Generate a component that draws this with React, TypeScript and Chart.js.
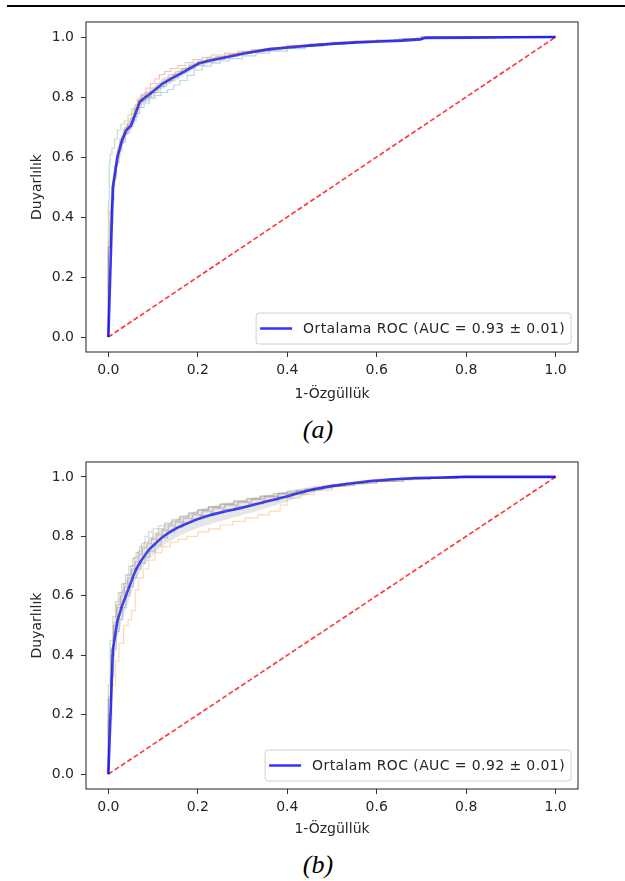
import React, { useEffect, useRef } from "react";
import { Chart, registerables } from "chart.js";

Chart.register(...registerables);

// ---------- data ----------
const axisTicks = [0, 0.2, 0.4, 0.6, 0.8, 1.0];
const chanceFpr = [0, 1];
const chanceTpr = [0, 1];

// (a) mean ROC
const meanFprA = [0, 0.0101, 0.0202, 0.0303, 0.0404, 0.0505, 0.0606, 0.0707, 0.0808, 0.0909, 0.101, 0.1212, 0.1414, 0.1616, 0.1818, 0.202, 0.2222, 0.2525, 0.303, 0.3535, 0.404, 0.4545, 0.505, 0.5556, 0.6061, 0.6566, 0.697, 0.7071, 0.8081, 0.9091, 1.0];
const meanTprA = [0, 0.5, 0.6, 0.655, 0.69, 0.705, 0.745, 0.785, 0.797, 0.808, 0.82, 0.845, 0.862, 0.878, 0.895, 0.912, 0.92, 0.929, 0.945, 0.958, 0.966, 0.972, 0.978, 0.982, 0.985, 0.988, 0.992, 0.997, 0.998, 0.999, 1.0];
const stdTprA = [0, 0.04, 0.03, 0.025, 0.02, 0.02, 0.02, 0.015, 0.015, 0.015, 0.015, 0.015, 0.015, 0.015, 0.012, 0.01, 0.008, 0.008, 0.006, 0.005, 0.005, 0.004, 0.004, 0.003, 0.003, 0.003, 0.003, 0.002, 0.001, 0.001, 0];

// (a) folds
const foldA1Fpr = [0, 0, 0.004, 0.008, 0.012, 0.018, 0.024, 0.03, 0.038, 0.046, 0.054, 0.062, 0.07, 0.08, 0.092, 0.104, 0.118, 0.132, 0.146, 0.16, 0.176, 0.192, 0.21, 0.23, 0.25, 0.27, 0.3, 0.33, 0.36, 0.4, 0.44, 0.48, 0.53, 0.58, 0.64, 0.7, 1.0];
const foldA1Tpr = [0, 0.28, 0.38, 0.46, 0.53, 0.58, 0.62, 0.65, 0.68, 0.7, 0.72, 0.745, 0.765, 0.78, 0.795, 0.805, 0.815, 0.825, 0.84, 0.855, 0.872, 0.89, 0.903, 0.913, 0.92, 0.928, 0.937, 0.946, 0.953, 0.961, 0.969, 0.975, 0.981, 0.986, 0.991, 1.0, 1.0];
const foldA2Fpr = [0, 0, 0.004, 0.01, 0.016, 0.022, 0.03, 0.036, 0.044, 0.052, 0.058, 0.064, 0.072, 0.082, 0.094, 0.108, 0.12, 0.134, 0.15, 0.166, 0.182, 0.2, 0.22, 0.24, 0.26, 0.29, 0.32, 0.35, 0.39, 0.43, 0.47, 0.52, 0.57, 0.62, 0.68, 0.72, 1.0];
const foldA2Tpr = [0, 0.32, 0.44, 0.52, 0.58, 0.63, 0.67, 0.7, 0.72, 0.745, 0.77, 0.795, 0.805, 0.815, 0.83, 0.845, 0.86, 0.875, 0.885, 0.895, 0.905, 0.915, 0.925, 0.932, 0.94, 0.947, 0.953, 0.96, 0.966, 0.972, 0.978, 0.983, 0.987, 0.99, 0.995, 1.0, 1.0];
const foldA3Fpr = [0, 0, 0.002, 0.004, 0.008, 0.014, 0.02, 0.028, 0.036, 0.044, 0.052, 0.06, 0.068, 0.078, 0.09, 0.102, 0.116, 0.13, 0.146, 0.162, 0.18, 0.2, 0.22, 0.24, 0.27, 0.3, 0.34, 0.38, 0.42, 0.46, 0.5, 0.55, 0.6, 0.66, 0.7, 1.0];
const foldA3Tpr = [0, 0.45, 0.58, 0.61, 0.63, 0.66, 0.69, 0.71, 0.72, 0.74, 0.76, 0.775, 0.785, 0.79, 0.8, 0.815, 0.835, 0.855, 0.875, 0.895, 0.91, 0.92, 0.93, 0.935, 0.942, 0.95, 0.957, 0.962, 0.968, 0.974, 0.978, 0.983, 0.988, 0.993, 1.0, 1.0];
const foldA4Fpr = [0, 0, 0.004, 0.008, 0.014, 0.02, 0.026, 0.034, 0.042, 0.05, 0.058, 0.066, 0.074, 0.084, 0.094, 0.104, 0.114, 0.126, 0.14, 0.156, 0.172, 0.19, 0.21, 0.23, 0.26, 0.29, 0.32, 0.36, 0.4, 0.45, 0.5, 0.55, 0.6, 0.65, 0.69, 1.0];
const foldA4Tpr = [0, 0.3, 0.42, 0.5, 0.57, 0.62, 0.66, 0.69, 0.71, 0.73, 0.76, 0.79, 0.81, 0.83, 0.845, 0.86, 0.875, 0.885, 0.895, 0.905, 0.915, 0.925, 0.932, 0.94, 0.946, 0.952, 0.958, 0.965, 0.972, 0.977, 0.982, 0.986, 0.99, 0.995, 1.0, 1.0];
const foldA5Fpr = [0, 0, 0.006, 0.012, 0.018, 0.026, 0.034, 0.042, 0.05, 0.058, 0.066, 0.074, 0.084, 0.096, 0.11, 0.124, 0.14, 0.156, 0.174, 0.194, 0.214, 0.236, 0.26, 0.29, 0.32, 0.36, 0.4, 0.44, 0.49, 0.54, 0.6, 0.66, 0.71, 1.0];
const foldA5Tpr = [0, 0.3, 0.45, 0.54, 0.6, 0.645, 0.675, 0.695, 0.71, 0.735, 0.765, 0.785, 0.8, 0.815, 0.83, 0.85, 0.865, 0.88, 0.895, 0.905, 0.915, 0.925, 0.935, 0.945, 0.952, 0.96, 0.967, 0.973, 0.979, 0.984, 0.989, 0.995, 1.0, 1.0];

// (b) mean ROC
const meanFprB = [0, 0.0101, 0.0202, 0.0303, 0.0404, 0.0505, 0.0606, 0.0707, 0.0808, 0.0909, 0.101, 0.1212, 0.1414, 0.1616, 0.1818, 0.202, 0.2323, 0.2626, 0.2929, 0.3232, 0.3535, 0.3939, 0.4242, 0.4545, 0.4949, 0.5354, 0.5859, 0.6364, 0.6869, 0.7475, 0.798, 1.0];
const meanTprB = [0, 0.42, 0.515, 0.565, 0.605, 0.645, 0.685, 0.712, 0.735, 0.755, 0.77, 0.798, 0.818, 0.834, 0.847, 0.859, 0.873, 0.884, 0.894, 0.905, 0.917, 0.932, 0.945, 0.957, 0.968, 0.977, 0.986, 0.992, 0.996, 0.998, 1.0, 1.0];
const stdTprB = [0, 0.07, 0.06, 0.05, 0.045, 0.04, 0.035, 0.032, 0.032, 0.032, 0.032, 0.03, 0.03, 0.03, 0.03, 0.03, 0.03, 0.028, 0.026, 0.024, 0.022, 0.018, 0.014, 0.011, 0.008, 0.006, 0.004, 0.003, 0.002, 0.001, 0, 0];

// (b) folds
const foldB1Fpr = [0, 0, 0.006, 0.012, 0.018, 0.024, 0.032, 0.04, 0.048, 0.056, 0.064, 0.072, 0.082, 0.092, 0.104, 0.118, 0.132, 0.148, 0.166, 0.186, 0.206, 0.23, 0.256, 0.284, 0.314, 0.346, 0.38, 0.41, 0.44, 0.48, 0.52, 0.57, 0.62, 0.68, 0.74, 0.8, 1.0];
const foldB1Tpr = [0, 0.2, 0.33, 0.42, 0.48, 0.52, 0.56, 0.6, 0.63, 0.66, 0.69, 0.71, 0.73, 0.75, 0.77, 0.795, 0.815, 0.83, 0.845, 0.858, 0.87, 0.88, 0.89, 0.9, 0.91, 0.92, 0.932, 0.945, 0.958, 0.968, 0.976, 0.984, 0.99, 0.995, 0.998, 1.0, 1.0];
const foldB2Fpr = [0, 0, 0.008, 0.016, 0.024, 0.034, 0.044, 0.052, 0.06, 0.068, 0.078, 0.09, 0.104, 0.12, 0.138, 0.156, 0.176, 0.2, 0.224, 0.25, 0.278, 0.306, 0.334, 0.36, 0.384, 0.4, 0.43, 0.46, 0.5, 0.54, 0.58, 0.63, 0.68, 0.74, 0.8, 1.0];
const foldB2Tpr = [0, 0.18, 0.3, 0.38, 0.44, 0.5, 0.52, 0.55, 0.62, 0.66, 0.69, 0.72, 0.745, 0.765, 0.78, 0.79, 0.8, 0.815, 0.825, 0.838, 0.85, 0.862, 0.872, 0.885, 0.905, 0.928, 0.94, 0.955, 0.968, 0.98, 0.988, 0.993, 0.996, 0.998, 1.0, 1.0];
const foldB3Fpr = [0, 0, 0.004, 0.01, 0.016, 0.022, 0.03, 0.038, 0.046, 0.054, 0.062, 0.07, 0.08, 0.09, 0.1, 0.112, 0.126, 0.142, 0.16, 0.18, 0.2, 0.224, 0.25, 0.28, 0.31, 0.34, 0.37, 0.4, 0.44, 0.48, 0.53, 0.58, 0.64, 0.7, 0.76, 1.0];
const foldB3Tpr = [0, 0.3, 0.45, 0.53, 0.58, 0.61, 0.64, 0.67, 0.7, 0.725, 0.745, 0.765, 0.78, 0.795, 0.81, 0.825, 0.84, 0.852, 0.865, 0.878, 0.89, 0.9, 0.91, 0.92, 0.928, 0.936, 0.944, 0.952, 0.96, 0.968, 0.977, 0.985, 0.992, 0.996, 1.0, 1.0];
const foldB4Fpr = [0, 0, 0.006, 0.012, 0.02, 0.028, 0.036, 0.044, 0.052, 0.06, 0.068, 0.076, 0.086, 0.096, 0.108, 0.12, 0.134, 0.15, 0.168, 0.188, 0.21, 0.234, 0.26, 0.29, 0.32, 0.35, 0.38, 0.42, 0.46, 0.5, 0.55, 0.6, 0.66, 0.72, 0.78, 1.0];
const foldB4Tpr = [0, 0.25, 0.4, 0.5, 0.56, 0.6, 0.63, 0.66, 0.69, 0.715, 0.74, 0.76, 0.775, 0.79, 0.805, 0.82, 0.835, 0.848, 0.86, 0.872, 0.885, 0.895, 0.905, 0.915, 0.925, 0.935, 0.945, 0.955, 0.965, 0.973, 0.98, 0.986, 0.992, 0.996, 1.0, 1.0];
const foldB5Fpr = [0, 0, 0.006, 0.012, 0.018, 0.026, 0.034, 0.042, 0.05, 0.058, 0.066, 0.074, 0.082, 0.09, 0.1, 0.112, 0.126, 0.142, 0.16, 0.18, 0.2, 0.224, 0.25, 0.28, 0.31, 0.34, 0.38, 0.42, 0.46, 0.5, 0.55, 0.6, 0.66, 0.72, 0.78, 1.0];
const foldB5Tpr = [0, 0.26, 0.42, 0.51, 0.57, 0.61, 0.64, 0.67, 0.7, 0.73, 0.75, 0.775, 0.8, 0.815, 0.825, 0.835, 0.845, 0.857, 0.868, 0.878, 0.888, 0.898, 0.907, 0.916, 0.925, 0.933, 0.942, 0.952, 0.962, 0.971, 0.979, 0.986, 0.992, 0.996, 1.0, 1.0];

const foldColors = [
  "rgba(31,119,180,0.3)",
  "rgba(255,127,14,0.3)",
  "rgba(44,160,44,0.3)",
  "rgba(214,39,40,0.3)",
  "rgba(148,103,189,0.3)",
];

const legendTextA = "Ortalama ROC (AUC = 0.93 ± 0.01)";
const legendTextB = "Ortalam ROC (AUC = 0.92 ± 0.01)";
const xTitle = "1-Özgüllük";
const yTitle = "Duyarlılık";

// ---------- helpers ----------
const FONT = "'DejaVu Sans', sans-serif";
const TEXT = "#262626";
const FS = 14;

const toPts = (xs: number[], ys: number[]) => xs.map((x, i) => ({ x, y: ys[i] }));

const frameLegendPlugin = {
  id: "frameLegend",
  afterDatasetsDraw(chart: any, _args: any, opts: any) {
    const { ctx, chartArea: a } = chart;
    ctx.save();
    ctx.strokeStyle = "#333";
    ctx.lineWidth = 1.1;
    ctx.strokeRect(a.left, a.top, a.right - a.left, a.bottom - a.top);

    ctx.font = `${FS}px ${FONT}`;
    try {
      (ctx as any).letterSpacing = "0.4px";
    } catch (e) {}
    const tw = ctx.measureText(opts.text).width;
    const h = 31;
    const right = a.right - 7;
    const bottom = a.bottom - 8;
    const w = 4 + 32 + 11 + tw + 6;
    const left = right - w;
    const top = bottom - h;
    const r = 3;
    ctx.beginPath();
    ctx.moveTo(left + r, top);
    ctx.lineTo(right - r, top);
    ctx.quadraticCurveTo(right, top, right, top + r);
    ctx.lineTo(right, bottom - r);
    ctx.quadraticCurveTo(right, bottom, right - r, bottom);
    ctx.lineTo(left + r, bottom);
    ctx.quadraticCurveTo(left, bottom, left, bottom - r);
    ctx.lineTo(left, top + r);
    ctx.quadraticCurveTo(left, top, left + r, top);
    ctx.closePath();
    ctx.fillStyle = "rgba(255,255,255,0.8)";
    ctx.fill();
    ctx.strokeStyle = "#d0d0d0";
    ctx.lineWidth = 1;
    ctx.stroke();

    const cy = top + h / 2;
    ctx.beginPath();
    ctx.moveTo(left + 4, cy);
    ctx.lineTo(left + 36, cy);
    ctx.strokeStyle = "rgba(0,0,255,0.8)";
    ctx.lineWidth = 2.6;
    ctx.stroke();

    ctx.fillStyle = TEXT;
    ctx.textBaseline = "middle";
    ctx.textAlign = "left";
    ctx.fillText(opts.text, left + 47, cy + 0.5);
    ctx.restore();
  },
};

type RocProps = {
  folds: { fpr: number[]; tpr: number[] }[];
  meanFpr: number[];
  meanTpr: number[];
  stdTpr: number[];
  legendText: string;
  top: number;
  height: number;
  areaTop: number;
  areaBottom: number;
  xTitlePad: number;
};

function RocChart(p: RocProps) {
  const ref = useRef<HTMLCanvasElement | null>(null);
  useEffect(() => {
    if (!ref.current) return;
    const upper = p.meanTpr.map((m, i) => Math.min(m + p.stdTpr[i], 1));
    const lower = p.meanTpr.map((m, i) => Math.max(m - p.stdTpr[i], 0));
    const datasets: any[] = [];
    p.folds.forEach((f, i) => {
      datasets.push({
        data: toPts(f.fpr, f.tpr),
        borderColor: foldColors[i],
        borderWidth: 1.2,
        pointRadius: 0,
        stepped: "before",
        fill: false,
        order: 10,
      });
    });
    datasets.push({
      data: toPts(chanceFpr, chanceTpr),
      borderColor: "rgba(255,0,0,0.8)",
      borderWidth: 1.6,
      borderDash: [5, 2.6],
      pointRadius: 0,
      fill: false,
      order: 5,
    });
    datasets.push({
      data: toPts(p.meanFpr, p.meanTpr),
      borderColor: "rgba(0,0,255,0.8)",
      borderWidth: 2.6,
      pointRadius: 0,
      fill: false,
      tension: 0,
      order: 4,
    });
    const upIdx = datasets.length;
    datasets.push({
      data: toPts(p.meanFpr, upper),
      borderWidth: 0,
      borderColor: "rgba(0,0,0,0)",
      pointRadius: 0,
      fill: false,
      order: 3,
    });
    datasets.push({
      data: toPts(p.meanFpr, lower),
      borderWidth: 0,
      borderColor: "rgba(0,0,0,0)",
      backgroundColor: "rgba(128,128,128,0.2)",
      pointRadius: 0,
      fill: upIdx,
      order: 2,
    });

    const tickFont = { family: FONT, size: FS };
    const chart = new Chart(ref.current, {
      type: "line",
      data: { datasets },
      plugins: [frameLegendPlugin],
      options: {
        animation: false,
        responsive: false,
        events: [],
        layout: { padding: { left: 0, right: 47, top: p.areaTop, bottom: 0 } },
        plugins: {
          legend: { display: false },
          tooltip: { enabled: false },
          frameLegend: { text: p.legendText },
        } as any,
        scales: {
          x: {
            type: "linear",
            min: -0.05,
            max: 1.05,
            afterBuildTicks: (s: any) => {
              s.ticks = axisTicks.map((v) => ({ value: v }));
            },
            afterFit: (s: any) => {
              s.height = p.height - p.areaBottom;
            },
            grid: { display: true, drawOnChartArea: false, drawTicks: true, tickLength: 5, color: "#333" },
            border: { display: false },
            ticks: {
              padding: 5,
              color: TEXT,
              font: tickFont,
              maxRotation: 0,
              autoSkip: false,
              callback: (v: any) => Number(v).toFixed(1),
            },
            title: { display: true, text: xTitle, color: TEXT, font: tickFont, padding: { top: 0, bottom: p.xTitlePad } },
          },
          y: {
            type: "linear",
            min: -0.05,
            max: 1.05,
            afterBuildTicks: (s: any) => {
              s.ticks = axisTicks.map((v) => ({ value: v }));
            },
            afterFit: (s: any) => {
              s.width = 86;
            },
            grid: { display: true, drawOnChartArea: false, drawTicks: true, tickLength: 5, color: "#333" },
            border: { display: false },
            ticks: {
              padding: 7,
              color: TEXT,
              font: tickFont,
              autoSkip: false,
              callback: (v: any) => Number(v).toFixed(1),
            },
            title: { display: true, text: yTitle, color: TEXT, font: tickFont, padding: { top: 29, bottom: 0 } },
          },
        },
      } as any,
    });
    return () => chart.destroy();
  }, []);
  return (
    <canvas
      ref={ref}
      width={625}
      height={p.height}
      style={{ position: "absolute", left: 0, top: p.top, width: 625, height: p.height }}
    />
  );
}

export default function App() {
  const captionStyle: React.CSSProperties = {
    position: "absolute",
    left: 318,
    transform: "translateX(-50%)",
    fontFamily: "'Liberation Serif', 'Times New Roman', serif",
    fontStyle: "italic",
    fontSize: 26,
    lineHeight: "26px",
    color: "#000",
    whiteSpace: "nowrap",
  };
  return (
    <div style={{ position: "absolute", left: 0, top: 0, width: 625, height: 881, background: "#fff" }}>
      <div style={{ position: "absolute", left: 7, top: 5, width: 618, height: 2, background: "#000" }} />
      <RocChart
        folds={[
          { fpr: foldA1Fpr, tpr: foldA1Tpr },
          { fpr: foldA2Fpr, tpr: foldA2Tpr },
          { fpr: foldA3Fpr, tpr: foldA3Tpr },
          { fpr: foldA4Fpr, tpr: foldA4Tpr },
          { fpr: foldA5Fpr, tpr: foldA5Tpr },
        ]}
        meanFpr={meanFprA}
        meanTpr={meanTprA}
        stdTpr={stdTprA}
        legendText={legendTextA}
        top={0}
        height={410}
        areaTop={22}
        areaBottom={352}
        xTitlePad={7}
      />
      <div style={{ ...captionStyle, top: 417 }}>(a)</div>
      <RocChart
        folds={[
          { fpr: foldB1Fpr, tpr: foldB1Tpr },
          { fpr: foldB2Fpr, tpr: foldB2Tpr },
          { fpr: foldB3Fpr, tpr: foldB3Tpr },
          { fpr: foldB4Fpr, tpr: foldB4Tpr },
          { fpr: foldB5Fpr, tpr: foldB5Tpr },
        ]}
        meanFpr={meanFprB}
        meanTpr={meanTprB}
        stdTpr={stdTprB}
        legendText={legendTextB}
        top={440}
        height={410}
        areaTop={22}
        areaBottom={349}
        xTitlePad={12}
      />
      <div style={{ ...captionStyle, top: 852 }}>(b)</div>
    </div>
  );
}
